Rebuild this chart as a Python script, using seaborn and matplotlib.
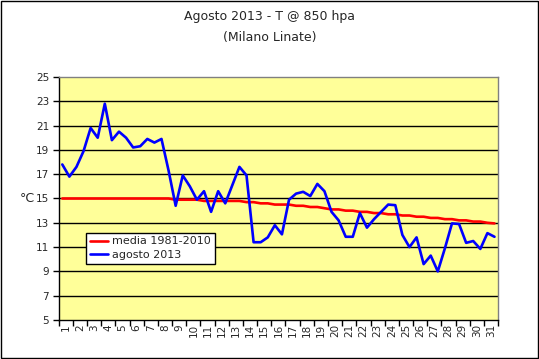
import numpy as np
import pandas as pd
import matplotlib
matplotlib.use('Agg')
import matplotlib.pyplot as plt
import seaborn as sns
from matplotlib.patches import Rectangle

# --- Data (two readings per day) ---
days = list(range(1, 32))
agosto_2013 = [17.8, 16.8, 17.6, 18.9, 20.8, 20.0, 22.8, 19.8, 20.5, 20.0,
               19.2, 19.3, 19.9, 19.6, 19.9, 17.3, 14.4, 16.9, 16.0, 14.9,
               15.6, 13.9, 15.6, 14.6, 16.1, 17.6, 16.9, 11.4, 11.4, 11.8,
               12.8, 12.05, 14.9, 15.4, 15.55, 15.2, 16.2, 15.6, 13.9, 13.2,
               11.85, 11.85, 13.8, 12.6, 13.3, 13.9, 14.5, 14.45, 12.0, 11.0,
               11.8, 9.6, 10.3, 9.0, 10.9, 12.95, 12.9, 11.35, 11.5, 10.85,
               12.15, 11.85]
media_1981_2010 = [15.0, 15.0, 15.0, 15.0, 15.0, 15.0, 15.0, 15.0, 15.0, 15.0,
                   15.0, 15.0, 15.0, 15.0, 15.0, 15.0, 14.9, 14.9, 14.9, 14.9,
                   14.8, 14.8, 14.8, 14.8, 14.8, 14.8, 14.7, 14.7, 14.6, 14.6,
                   14.5, 14.5, 14.5, 14.4, 14.4, 14.3, 14.3, 14.2, 14.1, 14.1,
                   14.0, 14.0, 13.9, 13.9, 13.8, 13.8, 13.7, 13.7, 13.6, 13.6,
                   13.5, 13.5, 13.4, 13.4, 13.3, 13.3, 13.2, 13.2, 13.1, 13.1,
                   13.0, 12.95]
y_ticks = list(range(5, 26, 2))

# two readings per day (00 and 12), placed inside each day's slot
x_pos = 0.75 + np.arange(len(agosto_2013)) / 2
df = pd.DataFrame({'x': np.concatenate([x_pos, x_pos]),
                   'T': media_1981_2010 + agosto_2013,
                   'serie': ['media 1981-2010'] * len(x_pos) + ['agosto 2013'] * len(x_pos)})

sns.set_style('white')
plt.rcParams['font.family'] = ['DejaVu Sans']

fig = plt.figure(figsize=(5.39, 3.59), dpi=100)
fig.patches.append(Rectangle((0.002, 0.002), 0.996, 0.995, transform=fig.transFigure,
                             fill=False, edgecolor='black', linewidth=1.0))
ax = fig.add_axes([0.109, 0.1086, 0.815, 0.677])
ax.set_facecolor('#FFFF99')

for v in y_ticks[1:-1]:
    ax.axhline(v, color='black', linewidth=1.0, zorder=1)

sns.lineplot(data=df, x='x', y='T', hue='serie', palette={'media 1981-2010': '#FF0000',
                                                         'agosto 2013': '#0000FF'},
             linewidth=1.9, ax=ax, zorder=3, legend=True)

ax.set_xlim(0.5, 31.5)
ax.set_ylim(5, 25)
ax.set_yticks(y_ticks)
ax.set_yticklabels([str(v) for v in y_ticks], fontsize=7.5)
ax.set_xticks(np.arange(0.5, 32, 1))
ax.set_xticklabels([])
ax.set_xticks(days, minor=True)
ax.set_xticklabels([str(d) for d in days], minor=True, rotation=90, fontsize=7.5)
ax.tick_params(axis='x', which='major', direction='out', length=4, width=1, color='black', bottom=True)
ax.tick_params(axis='x', which='minor', length=0, pad=3, bottom=True)
ax.tick_params(axis='y', direction='out', length=4, width=1, color='black', left=True, pad=3)

for side in ['top', 'right']:
    ax.spines[side].set_color('#808080')
    ax.spines[side].set_linewidth(1.0)
for side in ['left', 'bottom']:
    ax.spines[side].set_color('black')
    ax.spines[side].set_linewidth(1.0)

ax.set_xlabel('')
ax.set_ylabel('')
fig.text(0.05, 0.446, '°C', ha='center', va='center', fontsize=9)

fig.text(0.5, 0.953, 'Agosto 2013 - T @ 850 hpa', ha='center', va='center', fontsize=9)
fig.text(0.5, 0.895, '(Milano Linate)', ha='center', va='center', fontsize=9)

leg = ax.legend(loc='upper left', bbox_to_anchor=(0.062, 0.36), fontsize=8,
                frameon=True, fancybox=False, handlelength=1.6, handletextpad=0.4,
                borderpad=0.35, labelspacing=0.35, borderaxespad=0)
leg.get_frame().set_edgecolor('black')
leg.get_frame().set_linewidth(1.0)
leg.get_frame().set_facecolor('white')
leg.get_frame().set_alpha(1.0)

fig.savefig('out.png', dpi=100)
